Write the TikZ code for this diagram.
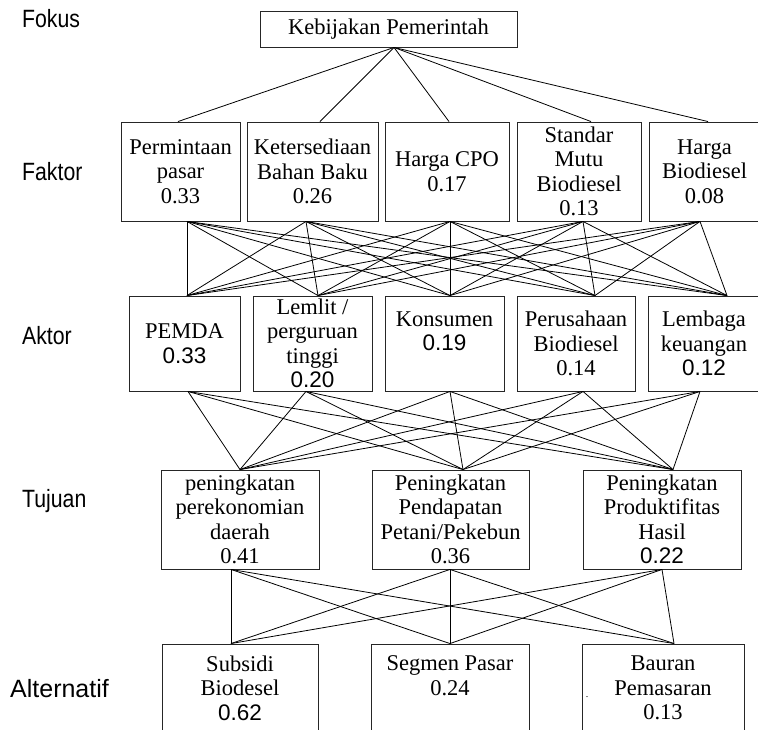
\documentclass[tikz,border=0pt]{standalone}
\usepackage{fontspec}
\setmainfont{Liberation Serif}
\setsansfont{Liberation Sans}
\newfontfamily\narrowsans[FakeStretch=0.85]{Liberation Sans}
\begin{document}
\begin{tikzpicture}[x=1pt,y=-1pt,
  box/.style={draw=black!85, line width=0.9pt, rectangle, inner sep=0pt,
    align=center, font=\fontsize{22.5}{24.5}\selectfont},
  link/.style={line width=0.8pt, black},
  level/.style={font=\narrowsans\fontsize{25}{26}\selectfont, anchor=base west, inner sep=0pt}]
\useasboundingbox (0,0) rectangle (758,730);

% level captions
\node[level] (lv1) at (22,28) {Fokus};
\node[level] (lv2) at (22,181) {Faktor};
\node[level] (lv3) at (22,344) {Aktor};
\node[level] (lv4) at (22,507) {Tujuan};
\node[level, font=\sffamily\fontsize{25}{26}\selectfont] (lv5) at (10,697) {Alternatif};

% focus
\node[box, minimum width=257pt, minimum height=36pt] (fk) at (388.5,29) {Kebijakan Pemerintah};

% factors
\node[box, minimum width=119pt, minimum height=99pt] (f1) at (180.5,171.5) {Permintaan\\pasar\\0.33};
\node[box, minimum width=131pt, minimum height=99pt] (f2) at (312.5,171.5) {Ketersediaan\\Bahan Baku\\0.26};
\node[box, minimum width=124pt, minimum height=99pt] (f3) at (447,171.5) {Harga CPO\\0.17};
\node[box, minimum width=124pt, minimum height=99pt] (f4) at (579,171.5) {Standar\\Mutu\\Biodiesel\\0.13};
\node[box, minimum width=111pt, minimum height=99pt] (f5) at (704.5,171.5) {Harga\\Biodiesel\\0.08};

% actors
\node[box, minimum width=111pt, minimum height=95pt] (a1) at (184.5,343.5) {PEMDA\\{\sffamily 0.33}};
\node[box, minimum width=119pt, minimum height=95pt] (a2) at (312.5,343.5) {Lemlit /\\perguruan\\tinggi\\{\sffamily 0.20}};
\node[box, minimum width=119pt, minimum height=95pt] (a3) at (444.5,343.5) {Konsumen\\{\sffamily 0.19}\\\mbox{}};
\node[box, minimum width=118pt, minimum height=95pt] (a4) at (576,343.5) {Perusahaan\\Biodiesel\\0.14};
\node[box, minimum width=112pt, minimum height=95pt] (a5) at (704,343.5) {Lembaga\\keuangan\\{\sffamily 0.12}};

% objectives
\node[box, minimum width=158pt, minimum height=99pt] (t1) at (240,519.5) {peningkatan\\perekonomian\\daerah\\0.41};
\node[box, minimum width=157pt, minimum height=99pt] (t2) at (450.5,519.5) {Peningkatan\\Pendapatan\\Petani/Pekebun\\0.36};
\node[box, minimum width=158pt, minimum height=99pt] (t3) at (662,519.5) {Peningkatan\\Produktifitas\\Hasil\\{\sffamily 0.22}};

% alternatives
\node[box, minimum width=156pt, minimum height=88pt] (l1) at (240,688) {Subsidi\\Biodesel\\{\sffamily 0.62}};
\node[box, minimum width=158pt, minimum height=88pt] (l2) at (450,688) {Segmen Pasar\\0.24\\\mbox{}};
\node[box, minimum width=162pt, minimum height=88pt] (l3) at (663,688) {Bauran\\Pemasaran\\0.13};
\node[font=\fontsize{10}{10}\selectfont, inner sep=0pt] (dot) at (587,697) {.};

% attachment points of the connectors
\coordinate (fk-b) at ([xshift=5.5pt]fk.south);
\foreach \n/\s in {f1/-2.5,f2/7.5,f3/2,f4/12,f5/3.5,
                   a1/2.5,a2/5.5,a3/5.5,a4/19,a5/23,
                   t1/0,t2/12.5,t3/11,
                   l1/-9,l2/0,l3/11}
  \coordinate (\n-t) at ([xshift=\s pt]\n.north);
\foreach \n/\s in {f1/6.5,f2/-6.5,f3/3,f4/4,f5/-4.5,
                   a1/3.5,a2/-6.5,a3/5.5,a4/7,a5/-4,
                   t1/-9,t2/-0.5,t3/0}
  \coordinate (\n-b) at ([xshift=\s pt]\n.south);

% connectors between consecutive levels
\foreach \i in {1,...,5} \draw[link] (fk-b) -- (f\i-t);
\foreach \i in {1,...,5} \foreach \j in {1,...,5} \draw[link] (f\i-b) -- (a\j-t);
\foreach \i in {1,...,5} \foreach \j in {1,2,3} \draw[link] (a\i-b) -- (t\j-t);
\foreach \i in {1,2,3} \foreach \j in {1,2,3} \draw[link] (t\i-b) -- (l\j-t);
\end{tikzpicture}
\end{document}
